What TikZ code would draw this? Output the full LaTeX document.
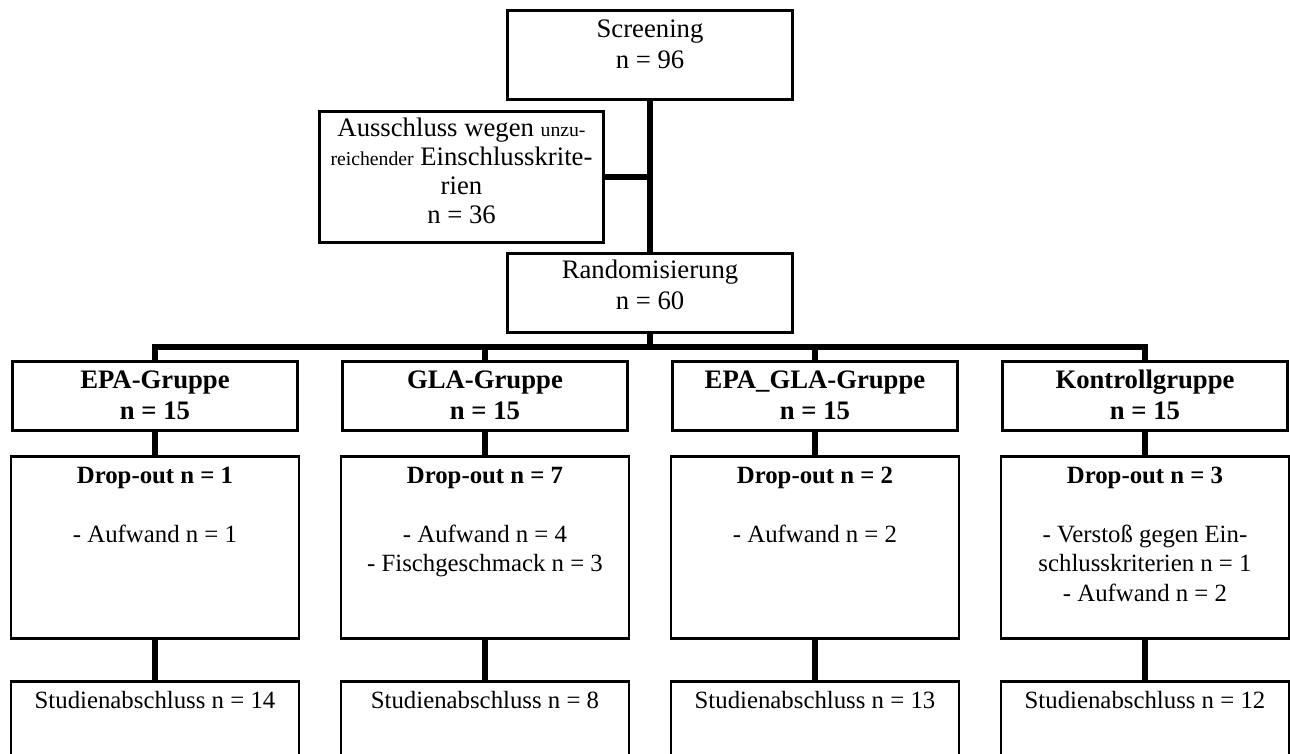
\documentclass[tikz,border=0pt]{standalone}
\usepackage{fontspec}
\setmainfont{Liberation Serif}
\begin{document}
\begin{tikzpicture}[x=1pt,y=-1pt,
  box/.style={draw, line width=1.8pt, inner sep=0pt, fill=white},
  conn/.style={line width=6pt},
  bigtxt/.style={inner sep=0pt, align=center, anchor=north, font=\fontsize{26.7}{31}\selectfont},
  midtxt/.style={inner sep=0pt, align=center, anchor=north, font=\fontsize{26.7}{29}\selectfont},
  smalltxt/.style={inner sep=0pt, align=center, anchor=north, font=\fontsize{24.8}{29.5}\selectfont}
]
\useasboundingbox (0,0) rectangle (1290,753);
\fill[white] (0,0) rectangle (1290,753);
\clip (0,0) rectangle (1290,753);

% coordinates for bar
\coordinate (bar) at (650,347);

% boxes
\node[box, minimum width=284pt, minimum height=88pt] (scr) at (650,55) {};
\node[box, minimum width=283pt, minimum height=130pt] (excl) at (461.5,177) {};
\node[box, minimum width=284pt, minimum height=78pt] (rand) at (650,293) {};

\foreach \i/\cx in {1/155,2/485,3/815,4/1145}{
  \node[box, minimum width=284pt, minimum height=68pt] (g\i) at (\cx,396) {};
  \node[box, minimum width=287pt, minimum height=181pt] (d\i) at (\cx,547.5) {};
  \node[box, minimum width=287pt, minimum height=118pt] (s\i) at (\cx,741) {};
}

% connectors
\draw[conn] (scr.south) -- (rand.north);
\draw[conn] (excl.east) -- (excl.east -| scr.south);
\draw[conn] (rand.south) -- (bar);
\draw[conn] (g1.north) |- (bar) -| (g4.north);
\draw[conn] (g2.north) -- (g2.north |- bar);
\draw[conn] (g3.north) -- (g3.north |- bar);
\foreach \i in {1,2,3,4}{
  \draw[conn] (g\i.south) -- (d\i.north);
  \draw[conn] (d\i.south) -- (s\i.north);
}

% redraw box borders over connectors' ends
\foreach \n in {scr,excl,rand,g1,g2,g3,g4,d1,d2,d3,d4,s1,s2,s3,s4}{
  \draw[line width=1.8pt] (\n.north west) rectangle (\n.south east);
}

% texts
\node[bigtxt] (scr-t) at (650,15.3) {\strut Screening\\\strut n = 96};
\node[midtxt] (excl-t) at (461.5,115.7) {\strut Ausschluss wegen {\fontsize{19.7}{29}\selectfont unzu-}\\
  \strut{\fontsize{19.7}{29}\selectfont reichender} Einschlusskrite-\\\strut rien\\\strut n = 36};
\node[bigtxt] (rand-t) at (650,256.3) {\strut Randomisierung\\\strut n = 60};

\node[bigtxt, font=\fontsize{26.7}{31}\selectfont\bfseries] (g1-t) at (155,366.3) {\strut EPA-Gruppe\\\strut n = 15};
\node[bigtxt, font=\fontsize{26.7}{31}\selectfont\bfseries] (g2-t) at (485,366.3) {\strut GLA-Gruppe\\\strut n = 15};
\node[bigtxt, font=\fontsize{26.7}{31}\selectfont\bfseries] (g3-t) at (815,366.3) {\strut EPA\_GLA-Gruppe\\\strut n = 15};
\node[bigtxt, font=\fontsize{26.7}{31}\selectfont\bfseries] (g4-t) at (1145,366.3) {\strut Kontrollgruppe\\\strut n = 15};

\node[smalltxt] (d1-t) at (155,462.35) {\strut\textbf{Drop-out n = 1}\\\strut\\\strut - Aufwand n = 1};
\node[smalltxt] (d2-t) at (485,462.35) {\strut\textbf{Drop-out n = 7}\\\strut\\\strut - Aufwand n = 4\\\strut - Fischgeschmack n = 3};
\node[smalltxt] (d3-t) at (815,462.35) {\strut\textbf{Drop-out n = 2}\\\strut\\\strut - Aufwand n = 2};
\node[smalltxt] (d4-t) at (1145,462.35) {\strut\textbf{Drop-out n = 3}\\\strut\\\strut - Verstoß gegen Ein-\\\strut schlusskriterien n = 1\\\strut - Aufwand n = 2};

\node[smalltxt] (s1-t) at (155,687.35) {\strut Studienabschluss n = 14};
\node[smalltxt] (s2-t) at (485,687.35) {\strut Studienabschluss n = 8};
\node[smalltxt] (s3-t) at (815,687.35) {\strut Studienabschluss n = 13};
\node[smalltxt] (s4-t) at (1145,687.35) {\strut Studienabschluss n = 12};
\end{tikzpicture}
\end{document}
